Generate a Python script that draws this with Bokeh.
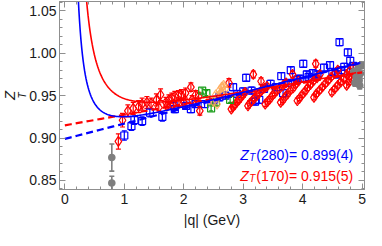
import numpy as np
from bokeh.plotting import figure
from bokeh.models import (ColumnDataSource, Whisker, TeeHead, LinearAxis, Range1d, Label, Title,
                          SingleIntervalTicker, NumeralTickFormatter, CustomJSTickFormatter)
from bokeh.embed import file_html
from bokeh.resources import INLINE

# ---------------- data ----------------
# red: Z_T, m_pi = 170 MeV ensemble
red_q = [0.90, 0.97, 1.06, 1.15, 1.24, 1.30, 1.38, 1.45, 1.54, 1.61, 1.70, 1.75, 1.80, 1.85,
         1.91, 1.96, 2.03, 2.12, 2.14, 2.20, 2.25, 2.27, 1.58, 1.72, 1.82, 1.92, 2.00,
         2.76, 3.17, 3.30, 3.83, 4.22,
         2.80, 2.83, 2.86, 2.90, 2.93, 2.96, 3.00, 3.03,
         3.08, 3.11, 3.15, 3.19, 3.23, 3.27, 3.31, 3.36, 3.40,
         3.37, 3.41, 3.45, 3.49, 3.53, 3.57, 3.62, 3.67, 3.72,
         3.63, 3.67, 3.71, 3.75, 3.79, 3.84, 3.88, 3.93,
         3.91, 3.95, 3.99, 4.04, 4.08, 4.13, 4.18, 4.24, 4.29,
         4.19, 4.23, 4.28, 4.33, 4.38, 4.43, 4.48, 4.54, 4.59,
         4.49, 4.54, 4.59, 4.64, 4.69, 4.74, 4.79, 4.85,
         4.74, 4.78, 4.82, 4.87, 4.92]
red_z = [0.896, 0.921, 0.932, 0.935, 0.937, 0.940, 0.942, 0.941, 0.945, 0.951, 0.942, 0.945, 0.947, 0.949,
         0.950, 0.951, 0.953, 0.960, 0.945, 0.951, 0.949, 0.932, 0.936, 0.938, 0.939, 0.941, 0.942,
         0.965, 0.975, 0.967, 0.975, 0.9875,
         0.934, 0.937, 0.939, 0.943, 0.945, 0.948, 0.951, 0.954,
         0.938, 0.941, 0.944, 0.947, 0.950, 0.953, 0.956, 0.959, 0.961,
         0.940, 0.943, 0.946, 0.950, 0.953, 0.956, 0.959, 0.962, 0.965,
         0.942, 0.945, 0.949, 0.952, 0.956, 0.959, 0.963, 0.967,
         0.944, 0.947, 0.951, 0.955, 0.959, 0.963, 0.967, 0.971, 0.975,
         0.948, 0.952, 0.956, 0.960, 0.964, 0.968, 0.972, 0.976, 0.980,
         0.954, 0.958, 0.962, 0.966, 0.970, 0.975, 0.979, 0.983,
         0.962, 0.966, 0.970, 0.974, 0.978]
red_e = [0.009, 0.008, 0.007, 0.007, 0.007, 0.007, 0.007, 0.006, 0.007, 0.007, 0.006, 0.006, 0.006, 0.006,
         0.006, 0.006, 0.006, 0.005, 0.005, 0.005, 0.005, 0.005, 0.004, 0.004, 0.004, 0.004, 0.004,
         0.005, 0.004, 0.004, 0.004, 0.004,
         0.003, 0.003, 0.003, 0.003, 0.003, 0.003, 0.003, 0.003,
         0.003, 0.003, 0.003, 0.003, 0.003, 0.003, 0.003, 0.003, 0.003,
         0.003, 0.003, 0.003, 0.003, 0.003, 0.003, 0.003, 0.003, 0.003,
         0.003, 0.003, 0.003, 0.003, 0.003, 0.003, 0.003, 0.003,
         0.003, 0.003, 0.003, 0.003, 0.003, 0.003, 0.003, 0.003, 0.003,
         0.003, 0.003, 0.003, 0.003, 0.003, 0.003, 0.003, 0.003, 0.003,
         0.003, 0.003, 0.003, 0.003, 0.003, 0.003, 0.003, 0.003,
         0.003, 0.003, 0.003, 0.003, 0.003]

# blue: Z_T, m_pi = 280 MeV ensemble
blue_q = [1.00, 1.12, 1.17, 1.30, 1.43, 1.64, 1.83, 1.85, 2.04, 2.12, 2.20, 2.35, 2.50, 2.60, 2.70,
          2.83, 2.90, 3.00, 3.05, 3.14, 3.20, 3.27, 3.35, 3.46, 3.55, 3.64, 3.67, 3.75, 3.80,
          3.91, 3.95, 4.01, 4.07, 4.10, 4.17, 4.25, 4.36, 4.46, 4.50, 4.59, 4.62, 4.65, 4.70,
          4.76, 4.80, 4.85]
blue_z = [0.903, 0.914, 0.921, 0.920, 0.930, 0.925, 0.938, 0.934, 0.938, 0.934, 0.940, 0.940, 0.945, 0.948, 0.950,
          0.960, 0.952, 0.955, 0.971, 0.956, 0.943, 0.945, 0.958, 0.964, 0.960, 0.973, 0.953, 0.965, 0.980,
          0.969, 0.970, 0.9875, 0.975, 0.972, 0.9765, 0.975, 0.983, 0.986, 0.978, 0.975, 1.013, 0.980, 0.984,
          1.001, 0.991, 0.985]
blue_e = [0.0055, 0.005, 0.005, 0.005, 0.005, 0.005, 0.005, 0.004, 0.004, 0.004, 0.004, 0.004, 0.004, 0.004, 0.004,
          0.004, 0.004, 0.004, 0.004, 0.004, 0.004, 0.004, 0.004, 0.004, 0.004, 0.004, 0.004, 0.004, 0.004,
          0.004, 0.004, 0.004, 0.004, 0.004, 0.004, 0.004, 0.004, 0.004, 0.004, 0.004, 0.004, 0.004, 0.004,
          0.004, 0.004, 0.004]

green_q = [2.31, 2.38, 2.46, 2.54, 2.78]
green_z = [0.956, 0.953, 0.935, 0.942, 0.945]
green_e = [0.003, 0.003, 0.003, 0.003, 0.003]

orange_q = [2.43, 2.50, 2.54, 2.56, 2.58, 2.60, 2.62, 2.64, 2.67, 2.70]
orange_z = [0.945, 0.943, 0.951, 0.940, 0.949, 0.956, 0.953, 0.960, 0.962, 0.958]
orange_e = [0.003, 0.003, 0.003, 0.003, 0.003, 0.003, 0.003, 0.003, 0.003, 0.003]

gray_q = [0.79, 0.79, 4.86, 4.88, 4.90, 4.93, 4.95, 4.96, 4.97, 4.99]
gray_z = [0.877, 0.847, 0.978, 0.965, 0.972, 0.982, 0.968, 0.962, 0.976, 0.986]
gray_e = [0.016, 0.008, 0.004, 0.004, 0.004, 0.004, 0.004, 0.004, 0.004, 0.004]

# fit parameters  Z(q) = a + b q + c / q^2
fit280 = dict(a=0.899, b=0.018, c=0.0082)
fit170 = dict(a=0.915, b=0.0125, c=0.019)

x_ticks_interval = 1
y_ticks_interval = 0.05

# ---------------- figure ----------------
FONT = "Liberation Sans"
AX = "#8f8f8f"
BLUE = "#0000ff"
RED = "#ff0000"
GREEN = "#1a9e1a"
ORANGE = "#ffac5c"
GRAY = "#7f7f7f"
INK = "#1a1a1a"

p = figure(width=366, height=230, output_backend="svg", toolbar_location=None,
           x_range=Range1d(-0.09, 5.04), y_range=Range1d(0.8393, 1.061),
           min_border_left=10, min_border_right=2, min_border_top=1, min_border_bottom=30)
p.grid.visible = False
p.outline_line_color = AX
p.background_fill_color = "white"
p.border_fill_color = "white"

xt = SingleIntervalTicker(interval=x_ticks_interval, num_minor_ticks=5)
yt = SingleIntervalTicker(interval=y_ticks_interval, num_minor_ticks=5)


def style(ax):
    ax.axis_line_color = AX
    ax.major_tick_line_color = AX
    ax.minor_tick_line_color = AX
    ax.major_tick_in = 6
    ax.major_tick_out = 0
    ax.minor_tick_in = 3
    ax.minor_tick_out = 0
    ax.major_label_text_font = FONT
    ax.major_label_text_font_size = "14px"
    ax.major_label_text_color = INK


p.xaxis.ticker = xt
p.yaxis.ticker = yt
p.xaxis.formatter = NumeralTickFormatter(format="0")
p.yaxis.formatter = NumeralTickFormatter(format="0.00")
style(p.xaxis[0])
style(p.yaxis[0])
p.xaxis.major_label_standoff = 4
p.yaxis.major_label_standoff = 3
p.xaxis.axis_label = "|q| (GeV)"
p.xaxis.axis_label_text_font = FONT
p.xaxis.axis_label_text_font_size = "14px"
p.xaxis.axis_label_text_font_style = "normal"
p.xaxis.axis_label_text_color = INK
p.xaxis.axis_label_standoff = 5

blank = CustomJSTickFormatter(code="return ''")
top = LinearAxis(ticker=xt, formatter=blank, major_label_standoff=0)
right = LinearAxis(ticker=yt, formatter=blank, major_label_standoff=0)
style(top)
style(right)
top.major_label_text_font_size = "1px"
right.major_label_text_font_size = "1px"
p.add_layout(top, "above")
p.add_layout(right, "right")

# y-axis label Z_T as two stacked titles on the left (T nearer the frame, shifted up)
p.add_layout(Title(text="T", text_font=FONT, text_font_size="10px", text_font_style="italic",
                   text_color=INK, align="center", offset=-8, standoff=-2), "left")
p.add_layout(Title(text="Z", text_font=FONT, text_font_size="15px", text_font_style="italic",
                   text_color=INK, align="center", offset=4, standoff=-4), "left")


def series(q, z, e, color, marker, size, fill, head, lw=1.2, alpha=1.0):
    src = ColumnDataSource(dict(q=q, z=z,
                                lo=[a - b for a, b in zip(z, e)],
                                hi=[a + b for a, b in zip(z, e)]))
    w = Whisker(source=src, base="q", upper="hi", lower="lo", line_color=color, line_width=lw,
                line_alpha=alpha,
                upper_head=TeeHead(size=head, line_color=color, line_width=lw, line_alpha=alpha),
                lower_head=TeeHead(size=head, line_color=color, line_width=lw, line_alpha=alpha))
    p.add_layout(w)
    p.scatter("q", "z", source=src, marker=marker, size=size, line_color=color, line_width=lw,
              line_alpha=alpha, fill_color=color if fill else None, fill_alpha=alpha if fill else 0)


series(blue_q, blue_z, blue_e, BLUE, "square", 7, False, 5)
series(red_q, red_z, red_e, RED, "diamond", 10, False, 5)
series(green_q, green_z, green_e, GREEN, "square", 7, False, 4)
series(orange_q, orange_z, orange_e, ORANGE, "diamond", 10, False, 4, alpha=0.85)
series(gray_q, gray_z, gray_e, GRAY, "circle", 6, True, 5, lw=1.6)

# fit curves
def model(qv, f):
    return f["a"] + f["b"] * qv + f["c"] / qv ** 2

def linear(qv, f):
    return f["a"] + f["b"] * qv

qd = np.linspace(0.0, 5.0, 50)
p.line(qd, linear(qd, fit170), line_color=RED, line_width=2.2, line_dash="7 4")
p.line(qd, linear(qd, fit280), line_color=BLUE, line_width=2.2, line_dash="7 4")
q170 = np.linspace(0.25, 4.90, 400)
q280 = np.linspace(0.15, 4.97, 400)
p.line(q170, model(q170, fit170), line_color=RED, line_width=1.6)
p.line(q280, model(q280, fit280), line_color=BLUE, line_width=1.6)

# annotations
def note(y, color, rest):
    x0 = 2.95
    p.add_layout(Label(x=x0, y=y, text="Z", text_font=FONT, text_font_size="14px",
                       text_font_style="italic", text_color=color, text_align="left",
                       text_baseline="middle"))
    p.add_layout(Label(x=x0, y=y, x_offset=9, y_offset=-3, text="T", text_font=FONT,
                       text_font_size="10px", text_font_style="italic", text_color=color,
                       text_align="left", text_baseline="middle"))
    p.add_layout(Label(x=x0, y=y, x_offset=16, text=rest, text_font=FONT, text_font_size="14px",
                       text_color=color, text_align="left", text_baseline="middle"))

note(0.8800, BLUE, "(280)= 0.899(4)")
note(0.8555, RED, "(170)= 0.915(5)")

open("out.html", "w").write(file_html(p, INLINE))
